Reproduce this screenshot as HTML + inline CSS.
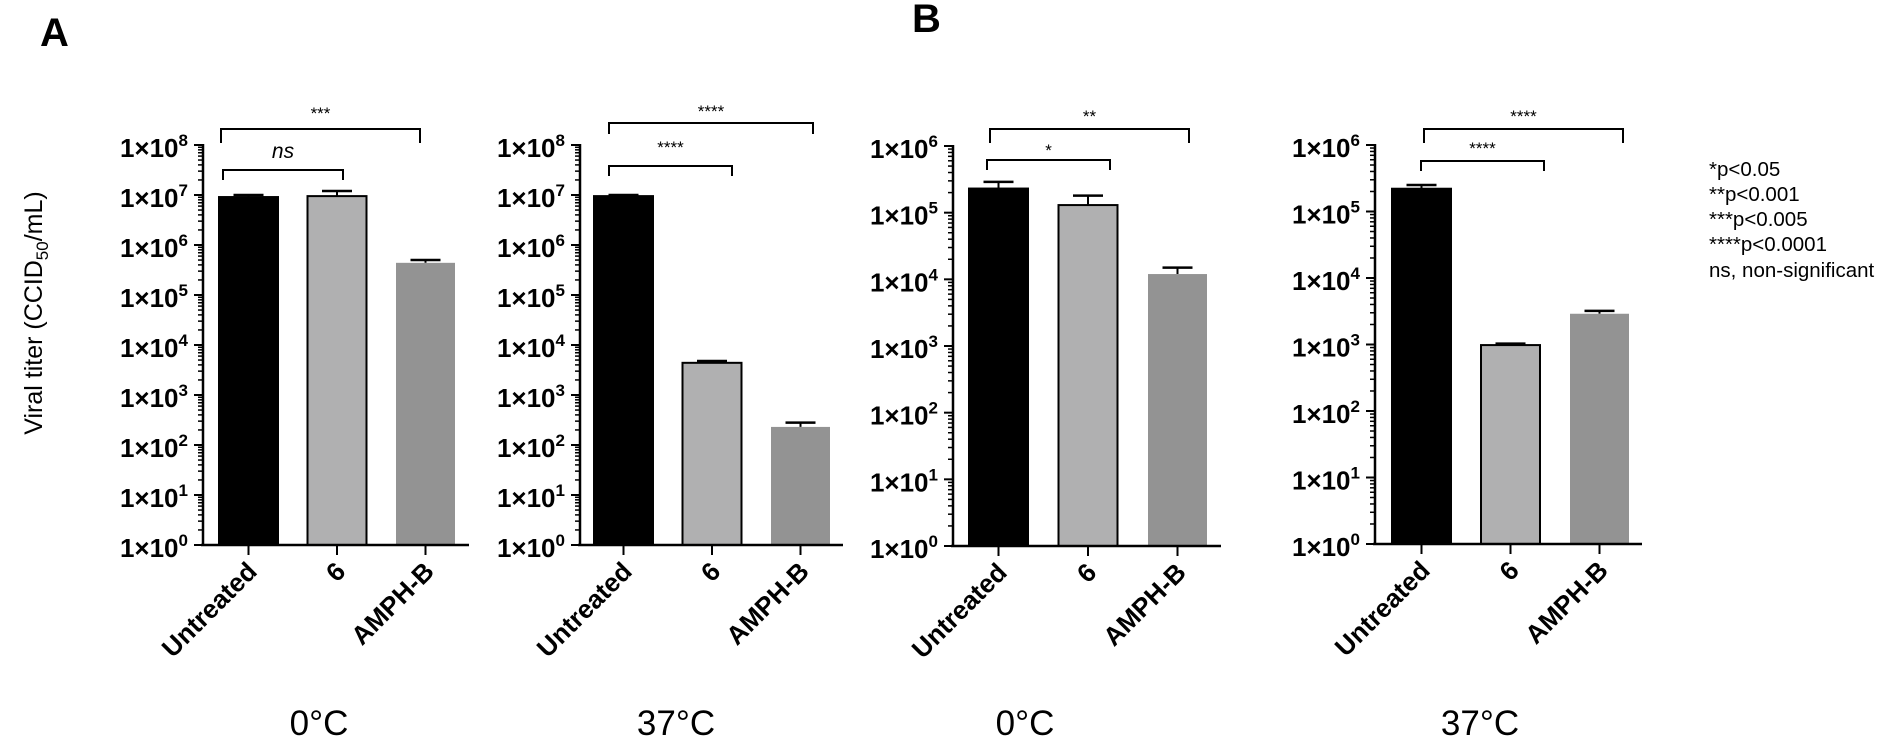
<!DOCTYPE html>
<html><head><meta charset="utf-8"><style>
html,body{margin:0;padding:0;background:#fff;}
svg{display:block;font-family:"Liberation Sans",Arial,sans-serif;}
</style></head><body>
<svg id="fig" width="1892" height="742" viewBox="0 0 1892 742" xmlns="http://www.w3.org/2000/svg">
<text x="40" y="46" font-size="40" font-weight="bold">A</text>
<text x="912" y="32" font-size="40" font-weight="bold">B</text>
<text transform="translate(42,313) rotate(-90)" text-anchor="middle" font-size="25">Viral titer (CCID<tspan font-size="17" dy="6">50</tspan><tspan dy="-6">/mL)</tspan></text>
<g font-size="20.5">
<text x="1709" y="176">*p&lt;0.05</text>
<text x="1709" y="201">**p&lt;0.001</text>
<text x="1709" y="226">***p&lt;0.005</text>
<text x="1709" y="251">****p&lt;0.0001</text>
<text x="1709" y="277">ns, non-significant</text>
</g>
<g id="charts"></g>
</svg>
<script>
const categories = ["Untreated", "6", "AMPH-B"];
const valuesA0 = [9.1e6, 9.5e6, 4.4e5];
const errorsA0 = [1.0e7, 1.2e7, 5.0e5];
const valuesA37 = [9.5e6, 4.4e3, 230];
const errorsA37 = [1.0e7, 4.8e3, 280];
const valuesB0 = [2.3e5, 1.3e5, 1.2e4];
const errorsB0 = [2.9e5, 1.8e5, 1.5e4];
const valuesB37 = [2.2e5, 980, 2.9e3];
const errorsB37 = [2.5e5, 1.03e3, 3.2e3];
const tickExpA = [0,1,2,3,4,5,6,7,8];
const tickExpB = [0,1,2,3,4,5,6];
const tempLabels = ["0°C", "37°C", "0°C", "37°C"];

const NS = "http://www.w3.org/2000/svg";
const root = document.getElementById('charts');
function mk(tag, attrs, parent){const e=document.createElementNS(NS,tag);for(const k in attrs)e.setAttribute(k,attrs[k]);(parent||root).appendChild(e);return e;}

const panels = [
 {id:"a-0c", vals:valuesA0, errs:errorsA0, ticks:tickExpA, ax:203, off:16, pitch:88.5, top:145, bot:545, xEnd:469, temp:tempLabels[0], tx:319,
  brackets:[{x1:221,x2:420,y:129,d:14,l:"***",ly:119,it:false},{x1:223,x2:343,y:170,d:10,l:"ns",ly:158,it:true}]},
 {id:"a-37c", vals:valuesA37, errs:errorsA37, ticks:tickExpA, ax:580, off:14, pitch:88.5, top:145, bot:545, xEnd:843, temp:tempLabels[1], tx:676,
  brackets:[{x1:609,x2:813,y:123,d:11,l:"****",ly:117,it:false},{x1:609,x2:732,y:166,d:10,l:"****",ly:153,it:false}]},
 {id:"b-0c", vals:valuesB0, errs:errorsB0, ticks:tickExpB, ax:953, off:16, pitch:89.5, top:146, bot:546, xEnd:1221, temp:tempLabels[2], tx:1025,
  brackets:[{x1:990,x2:1189,y:129,d:14,l:"**",ly:122,it:false},{x1:987,x2:1110,y:160,d:10,l:"*",ly:156,it:false}]},
 {id:"b-37c", vals:valuesB37, errs:errorsB37, ticks:tickExpB, ax:1375, off:17, pitch:89, top:145, bot:544, xEnd:1642, temp:tempLabels[3], tx:1480,
  brackets:[{x1:1424,x2:1623,y:129,d:14,l:"****",ly:122,it:false},{x1:1421,x2:1544,y:161,d:10,l:"****",ly:154,it:false}]}
];
const fills = ["#000000", "#b0b0b1", "#939393"];
const strokes = ["#000", "#000", "none"];
const barW = 59;

panels.forEach(p=>{
  const g = mk('g',{});
  
  
  const maxE = p.ticks[p.ticks.length-1];
  const y = v => p.bot - (Math.log10(v)/maxE)*(p.bot-p.top);
  const yE = e => p.bot - (e/maxE)*(p.bot-p.top);
  const xL = i => p.ax + p.off + i*p.pitch;
  const xC = i => xL(i) + barW/2;
  p.vals.forEach((v,i)=>{
    const yt = y(v), ye = y(p.errs[i]);
    const eb = mk('line',{x1:xC(i),x2:xC(i),y1:ye,y2:yt,stroke:"#000","stroke-width":2},g);
    
    
    const cap = mk('line',{x1:xC(i)-15,x2:xC(i)+15,y1:ye,y2:ye,stroke:"#000","stroke-width":2.5},g);
    
    
    const r = mk('rect',{x:xL(i),y:yt,width:barW,height:p.bot-yt,fill:fills[i],stroke:strokes[i],"stroke-width":2},g);
    
    
    const t = mk('line',{x1:xC(i),x2:xC(i),y1:p.bot,y2:p.bot+10,stroke:"#000","stroke-width":2},g);
    
    
    const lab = mk('text',{transform:`translate(${xC(i)+10},${p.bot+28}) rotate(-45)`,"text-anchor":"end","font-size":26,"font-weight":"bold"},g);
    lab.textContent = categories[i];
    
    
  });
  const yl = mk('line',{x1:p.ax,x2:p.ax,y1:p.top-1,y2:p.bot+1,stroke:"#000","stroke-width":2.5},g);
  
  
  const xl = mk('line',{x1:p.ax-2,x2:p.xEnd,y1:p.bot,y2:p.bot,stroke:"#000","stroke-width":2.5},g);
  
  
  p.ticks.forEach(e=>{
    const ty = yE(e);
    const tk = mk('line',{x1:p.ax-9,x2:p.ax,y1:ty,y2:ty,stroke:"#000","stroke-width":2},g);
    
    
    const tl = mk('text',{x:p.ax-15,y:ty+12,"text-anchor":"end","font-size":26,"font-weight":"bold"},g);
    
    
    const s1 = mk('tspan',{},tl); s1.textContent = "1×10";
    const s2 = mk('tspan',{dy:-11,"font-size":17},tl); s2.textContent = String(e);
    if(e<maxE){
      for(let m=2;m<=9;m++){
        const my = yE(e+Math.log10(m));
        mk('line',{x1:p.ax-5,x2:p.ax,y1:my,y2:my,stroke:"#000","stroke-width":1.5},g);
      }
    }
  });
  p.brackets.forEach(b=>{
    const br = mk('path',{d:`M${b.x1},${b.y+b.d} L${b.x1},${b.y} L${b.x2},${b.y} L${b.x2},${b.y+b.d}`,fill:"none",stroke:"#000","stroke-width":2},g);
    
    
    const bt = mk('text',{x:(b.x1+b.x2)/2,y:b.ly,"text-anchor":"middle","font-size":b.it?21:17,"font-style":b.it?"italic":"normal"},g);
    bt.textContent = b.l;
    
    
  });
  const tt = mk('text',{x:p.tx,y:735,"text-anchor":"middle","font-size":35},g);
  tt.textContent = p.temp;
  
  
});
</script>
</body></html>
